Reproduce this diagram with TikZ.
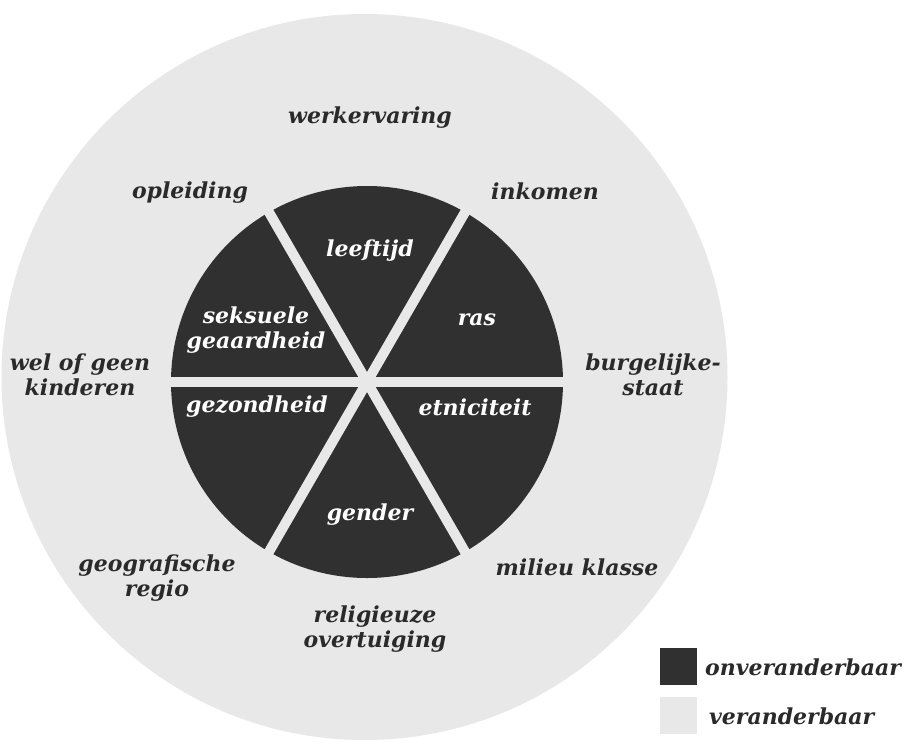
\documentclass[tikz,border=0pt]{standalone}
\usepackage{fontspec}
\usetikzlibrary{calc}
\setmainfont{DejaVu Serif}
\definecolor{darkfill}{HTML}{303030}
\definecolor{lightfill}{HTML}{E8E8E8}
\definecolor{txt}{HTML}{2A2A2A}
\begin{document}
\begin{tikzpicture}[x=1pt,y=-1pt,
  lbl/.style={font=\fontsize{22}{25}\selectfont\bfseries\itshape, text=txt, align=center, inner sep=0pt},
  inlbl/.style={lbl, text=white},
  gap/.style={draw=lightfill, line width=10pt}]
\useasboundingbox (0,0) rectangle (905,745);
\fill[white] (0,0) rectangle (905,745);
% outer ring
\fill[lightfill] (364.5,377) circle (363);
% inner disc
\coordinate (c) at (367,382);
\fill[darkfill] (c) circle (196);
\draw[gap] ($(c)+(-200,0)$) -- ($(c)+(200,0)$);
\draw[gap] ($(c)+(60:200)$) -- ($(c)+(240:200)$);
\draw[gap] ($(c)+(120:200)$) -- ($(c)+(300:200)$);
% inner labels
\node[inlbl] (leeftijd) at (370,251) {leeftijd};
\node[inlbl] (ras) at (477,320) {ras};
\node[inlbl] (seks) at (256,330) {seksuele\\geaardheid};
\node[inlbl] (gezond) at (257,407) {gezondheid};
\node[inlbl] (etni) at (475,407) {etniciteit};
\node[inlbl] (gender) at (370,515) {gender};
% outer labels
\node[lbl] (werk) at (370,118) {werkervaring};
\node[lbl] (opl) at (190,193) {opleiding};
\node[lbl] (inkomen) at (545,191) {inkomen};
\node[lbl] (kind) at (80,375) {wel of geen\\kinderen};
\node[lbl] (burg) at (653,375) {burgelijke-\\staat};
\node[lbl] (geo) at (157,578) {geografische\\regio};
\node[lbl] (milieu) at (577,567) {milieu klasse};
\node[lbl] (relig) at (375,629) {religieuze\\overtuiging};
% legend
\fill[darkfill] (660,648) rectangle (697,685);
\fill[lightfill] (660,697) rectangle (697,734);
\node[lbl, anchor=west] (onv) at (705,667) {onveranderbaar};
\node[lbl, anchor=west] (ver) at (709,716) {veranderbaar};
\end{tikzpicture}
\end{document}
